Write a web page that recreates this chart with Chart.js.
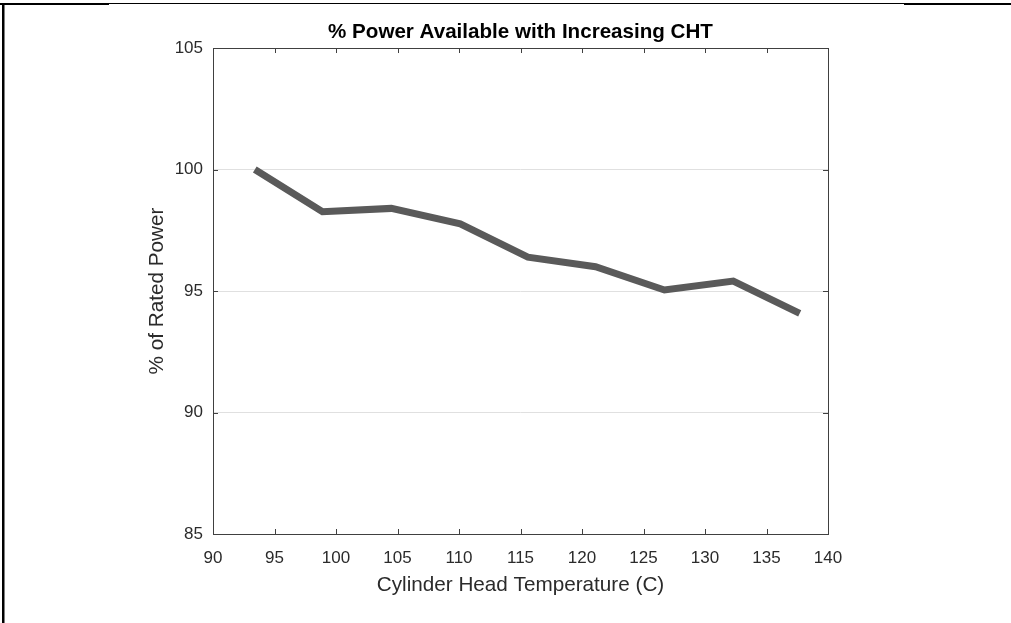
<!DOCTYPE html>
<html>
<head>
<meta charset="utf-8">
<script src="https://cdn.jsdelivr.net/npm/chart.js@4/dist/chart.umd.min.js"></script>
<style>
  html, body { margin: 0; padding: 0; background: #fff; }
  #wrap { width: 1011px; height: 623px; }
</style>
</head>
<body>
<div id="wrap"><canvas id="c" width="1011" height="623"></canvas></div>
<script>
// ---- Data ----
const chartTitle = '% Power Available with Increasing CHT';
const xAxisTitle = 'Cylinder Head Temperature (C)';
const yAxisTitle = '% of Rated Power';
const chtValues = [93.4, 98.9, 104.5, 110.1, 115.6, 121.1, 126.7, 132.3, 137.7];
const powerValues = [100.0, 98.26, 98.4, 97.76, 96.39, 96.0, 95.04, 95.41, 94.08];
const xTickValues = [90, 95, 100, 105, 110, 115, 120, 125, 130, 135, 140];
const yTickValues = [85, 90, 95, 100, 105];

const FONT = "'Liberation Sans', Arial, Helvetica, sans-serif";
const AXIS_COLOR = '#404040';
const TEXT_COLOR = '#2b2b2b';

const points = chtValues.map((x, i) => ({ x: x, y: powerValues[i] }));

// Frame lines (page border around the figure) + axes box with inward ticks
const framePlugin = {
  id: 'frame',
  beforeDraw(chart) {
    const ctx = chart.ctx;
    ctx.save();
    ctx.fillStyle = '#fff';
    ctx.fillRect(0, 0, chart.width, chart.height);
    ctx.fillStyle = '#000';
    // left vertical border
    ctx.fillRect(2, 3, 2.5, chart.height - 3);
    // top borders
    ctx.fillRect(0, 3, 109, 2);
    ctx.fillRect(109, 3, 795, 1);
    ctx.fillRect(904, 3, chart.width - 904, 2);
    ctx.restore();
  },
  afterDatasetsDraw(chart) {
    const ctx = chart.ctx;
    const a = chart.chartArea;
    const xs = chart.scales.x, ys = chart.scales.y;
    const tl = 5;
    ctx.save();
    ctx.strokeStyle = AXIS_COLOR;
    ctx.lineWidth = 1;
    ctx.beginPath();
    xTickValues.forEach(v => {
      const px = Math.round(xs.getPixelForValue(v)) + 0.5;
      ctx.moveTo(px, a.bottom); ctx.lineTo(px, a.bottom - tl);
      ctx.moveTo(px, a.top); ctx.lineTo(px, a.top + tl);
    });
    yTickValues.forEach(v => {
      const py = Math.round(ys.getPixelForValue(v)) + 0.5;
      ctx.moveTo(a.left, py); ctx.lineTo(a.left + tl, py);
      ctx.moveTo(a.right, py); ctx.lineTo(a.right - tl, py);
    });
    ctx.stroke();
    ctx.strokeRect(Math.round(a.left) + 0.5, Math.round(a.top) + 0.5,
                   Math.round(a.right - a.left), Math.round(a.bottom - a.top));
    ctx.restore();
  }
};

new Chart(document.getElementById('c'), {
  type: 'line',
  data: {
    datasets: [{
      data: points,
      borderColor: '#5a5a5a',
      backgroundColor: '#5a5a5a',
      borderWidth: 7,
      pointRadius: 0,
      pointHoverRadius: 0,
      tension: 0,
      fill: false
    }]
  },
  options: {
    responsive: false,
    animation: false,
    devicePixelRatio: 1,
    events: [],
    layout: { padding: { left: 0, right: 183, top: 0, bottom: 0 } },
    plugins: {
      legend: { display: false },
      tooltip: { enabled: false },
      title: {
        display: true,
        text: chartTitle,
        fullSize: false,
        color: '#000',
        font: { family: FONT, size: 20.6, weight: 'bold', lineHeight: 1.2 },
        padding: { top: 20, bottom: 3.3 }
      }
    },
    scales: {
      x: {
        type: 'linear',
        min: 90, max: 140,
        afterBuildTicks(scale) { scale.ticks = xTickValues.map(v => ({ value: v })); },
        afterFit(scale) { scale.height = 89; },
        grid: { display: false, drawTicks: false },
        border: { display: false },
        ticks: {
          color: TEXT_COLOR,
          font: { family: FONT, size: 17, lineHeight: 1.2 },
          padding: 14,
          maxRotation: 0,
          autoSkip: false
        },
        title: {
          display: true,
          text: xAxisTitle,
          color: TEXT_COLOR,
          font: { family: FONT, size: 20.7, lineHeight: 1.2 },
          padding: { top: 0, bottom: 25.2 }
        }
      },
      y: {
        type: 'linear',
        min: 85, max: 105,
        afterBuildTicks(scale) { scale.ticks = yTickValues.map(v => ({ value: v })); },
        afterFit(scale) { scale.width = 213; },
        grid: { display: true, drawTicks: false, color: '#e0e0e0', lineWidth: 1 },
        border: { display: false },
        ticks: {
          color: TEXT_COLOR,
          font: { family: FONT, size: 17, lineHeight: 1.2 },
          padding: 10,
          autoSkip: false
        },
        title: {
          display: true,
          text: yAxisTitle,
          color: TEXT_COLOR,
          font: { family: FONT, size: 20.7, lineHeight: 1.2 },
          padding: { top: 145, bottom: 0 }
        }
      }
    }
  },
  plugins: [framePlugin]
});
</script>
</body>
</html>
